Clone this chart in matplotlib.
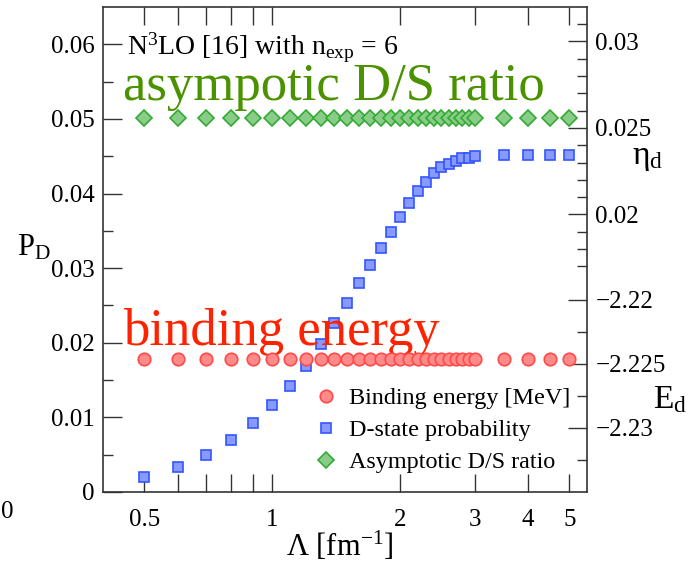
import matplotlib
matplotlib.use("Agg")
import matplotlib.pyplot as plt
from matplotlib.ticker import FixedLocator, NullFormatter, FixedFormatter

plt.rcParams['font.family'] = ['Liberation Serif', 'DejaVu Serif']
plt.rcParams['mathtext.default'] = 'regular'

# cutoff values Lambda [fm^-1]
lam = [0.5, 0.6, 0.7, 0.8, 0.9, 1.0, 1.1, 1.2, 1.3, 1.4, 1.5, 1.6, 1.7, 1.8,
       1.9, 2.0, 2.1, 2.2, 2.3, 2.4, 2.5, 2.6, 2.7, 2.8, 2.9, 3.0,
       3.5, 4.0, 4.5, 5.0]

# D-state probability
p_d = [0.0020, 0.0033, 0.0050, 0.0070, 0.0092, 0.0117, 0.0142, 0.0169,
       0.0199, 0.0226, 0.0253, 0.0280, 0.0304, 0.0327, 0.0349, 0.0369,
       0.0387, 0.0403, 0.0415, 0.0427, 0.0435, 0.0440, 0.0444, 0.0447,
       0.0448, 0.0450, 0.0451, 0.0451, 0.0451, 0.0451]

# binding energy [MeV] and asymptotic D/S ratio
e_d = [-2.2246] * len(lam)
eta_d = [0.0256] * len(lam)

fig = plt.figure(figsize=(6.94, 5.66), dpi=100)
ax = fig.add_axes([103/694, 1 - 492/566, 484/694, 485/566])

axcol = '#333333'
ax.set_xscale('log')
ax.set_xlim(0.4, 5.5)
ax.set_ylim(0, 0.065)
ax.set_xticks([0.5, 1, 2, 3, 4, 5])
ax.set_xticklabels(['0.5', '1', '2', '3', '4', '5'])
ax.xaxis.set_minor_locator(FixedLocator([0.6, 0.7, 0.8, 0.9]))
ax.xaxis.set_minor_formatter(NullFormatter())
ax.set_yticks([0, 0.01, 0.02, 0.03, 0.04, 0.05, 0.06])
ax.set_yticklabels(['0', '0.01', '0.02', '0.03', '0.04', '0.05', '0.06'])
ax.yaxis.set_minor_locator(FixedLocator([0.005, 0.015, 0.025, 0.035, 0.045, 0.055]))
ax.tick_params(axis='x', which='both', direction='in', top=True, length=13,
               width=1, color=axcol, labelsize=18, pad=12)
ax.tick_params(axis='y', which='major', direction='in', left=True, right=False,
               length=14, width=1, color=axcol, labelsize=18, pad=6)
ax.tick_params(axis='y', which='minor', direction='in', left=True, right=False,
               length=7, width=1, color=axcol)
for s in ax.spines.values():
    s.set_color(axcol)
    s.set_linewidth(1.2)

# right-hand scales: eta_d (upper part) and E_d (lower part)
ax_eta = ax.twinx()
ax_eta.set_position(ax.get_position())
ax_eta.set_ylim(0.00396, 0.03199)
ax_eta.yaxis.set_major_locator(FixedLocator([0.02, 0.025, 0.03]))
ax_eta.yaxis.set_major_formatter(FixedFormatter(['0.02', '0.025', '0.03']))
ax_eta.yaxis.set_minor_locator(FixedLocator(
    [0.017, 0.018, 0.019, 0.021, 0.022, 0.023, 0.024,
     0.026, 0.027, 0.028, 0.029, 0.031]))

ax_E = ax.twinx()
ax_E.set_position(ax.get_position())
ax_E.set_ylim(-2.235, -2.19711)
ax_E.yaxis.set_major_locator(FixedLocator([-2.23, -2.225, -2.22]))
ax_E.yaxis.set_major_formatter(FixedFormatter(['\u22122.23', '\u22122.225', '\u22122.22']))
ax_E.yaxis.set_minor_locator(FixedLocator([-2.2325, -2.2275, -2.2225]))

for tw in (ax_eta, ax_E):
    for s in tw.spines.values():
        s.set_visible(False)
    tw.tick_params(axis='y', which='major', direction='in', length=14, width=1,
                   color=axcol, labelsize=18, pad=6)
    tw.tick_params(axis='y', which='minor', direction='in', length=7, width=1,
                   color=axcol)

sq, = ax.plot(lam, p_d, 's', ms=7.6, mfc='#8899ff', mec='#3355ff', mew=1.2,
              ls='none', label='D-state probability')
di, = ax_eta.plot(lam, eta_d, 'D', ms=7.8, mfc='#88cc88', mec='#33aa33', mew=1.2,
                  ls='none', label='Asymptotic D/S ratio')
ci, = ax_E.plot(lam, e_d, 'o', ms=9, mfc='#ff8a8a', mec='#ff4a4a', mew=1.2,
                ls='none', label='Binding energy [MeV]')

ax_E.legend(handles=[ci, sq, di], loc='upper left',
            bbox_to_anchor=(302/694, 1 - 375/566), bbox_transform=fig.transFigure,
            frameon=False, fontsize=17.4, handlelength=1.0, handletextpad=0.45,
            labelspacing=0.42, borderpad=0, numpoints=1)

# annotations
ax.text(127/694, 1 - 55/566, 'N$^3$LO [16] with n$_{exp}$ = 6', transform=fig.transFigure,
        fontsize=20, va='baseline', ha='left', color='black')
ax.text(123/694, 1 - 100/566, 'asympotic D/S ratio', transform=fig.transFigure,
        fontsize=38, va='baseline', ha='left', color='#4a9200')
ax.text(123/694, 1 - 345/566, 'binding energy', transform=fig.transFigure,
        fontsize=38, va='baseline', ha='left', color='#ff2200')

fig.text(34/694, 1 - 248/566, 'P$_D$', fontsize=22, ha='center', va='center')
fig.text(648/694, 1 - 158/566, '$η_d$', fontsize=24, ha='center', va='center')
fig.text(670/694, 1 - 400/566, 'E$_d$', fontsize=24, ha='center', va='center')
fig.text(340/694, 1 - 546/566, 'Λ [fm$^{-1}$]', fontsize=22, ha='center', va='center')
fig.text(1/694, 1 - 512/566, '0', fontsize=18, ha='left', va='center')

fig.savefig('out.png', dpi=100)
